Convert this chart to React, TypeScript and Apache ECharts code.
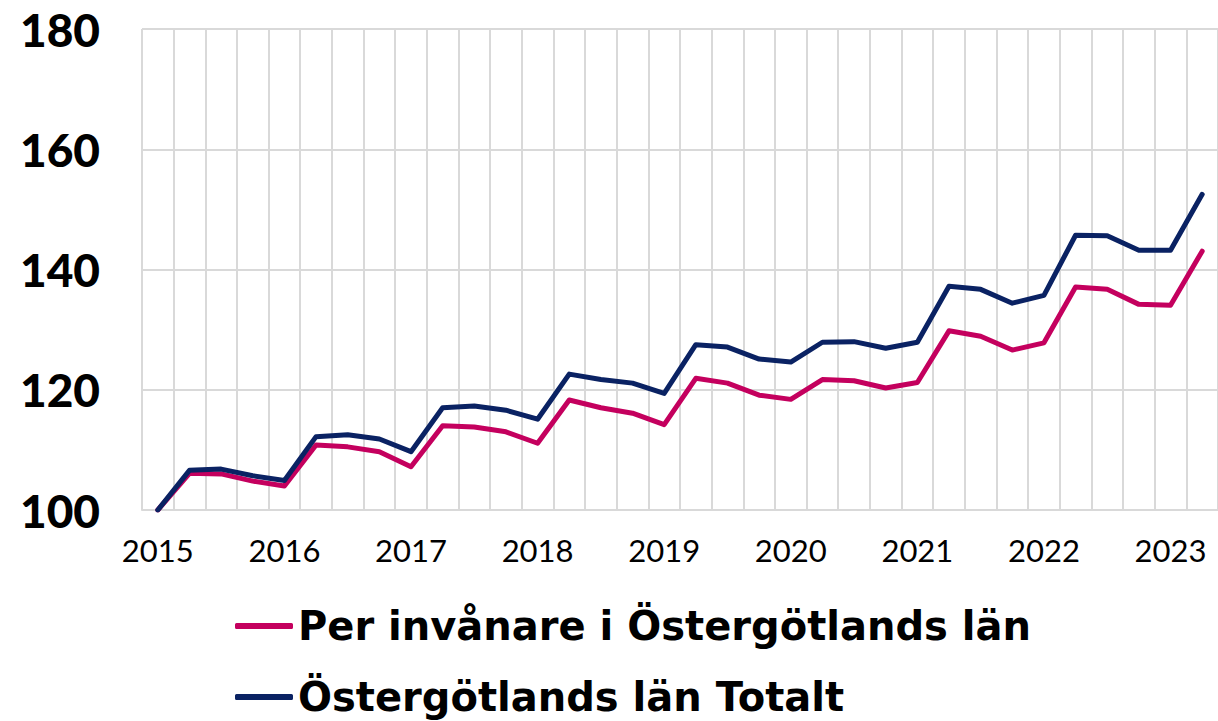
import React, { useEffect, useRef } from "react";
import * as echarts from "echarts";

const years = ["2015", "2016", "2017", "2018", "2019", "2020", "2021", "2022", "2023"];
const quarters = ["K1", "K2", "K3", "K4"];
const categories: string[] = [];
years.forEach((y) => quarters.forEach((q) => categories.push(`${y} ${q}`)));
const cats = categories.slice(0, 34);

const perInvanare = [
  100, 106.1, 106.0, 104.8, 104.0, 110.8, 110.5, 109.7, 107.2, 114.0, 113.8, 113.0, 111.1,
  118.3, 117.0, 116.1, 114.2, 121.9, 121.1, 119.1, 118.4, 121.7, 121.5, 120.3, 121.2,
  129.8, 128.9, 126.6, 127.8, 137.1, 136.7, 134.2, 134.05, 143.05,
];
const totalt = [
  100, 106.6, 106.8, 105.7, 104.9, 112.2, 112.5, 111.8, 109.7, 117.0, 117.3, 116.6, 115.1,
  122.6, 121.7, 121.1, 119.4, 127.5, 127.1, 125.1, 124.6, 127.9, 128.0, 126.9, 127.9,
  137.2, 136.7, 134.4, 135.7, 145.7, 145.6, 143.2, 143.2, 152.5,
];
const seriesNames = ["Per invånare i Östergötlands län", "Östergötlands län Totalt"];
const colors = ["#C4005E", "#0A2263"];

export default function App() {
  const ref = useRef<HTMLDivElement>(null);
  useEffect(() => {
    if (!ref.current) return;
    const chart = echarts.init(ref.current, undefined, { renderer: "svg" });
    const gridColor = "#d9d9d9";
    const legendBase = {
      orient: "vertical",
      left: 235,
      padding: 0,
      itemWidth: 58,
      itemHeight: 6,
      icon: "roundRect",
      textStyle: {
        fontFamily: "DejaVu Sans",
        fontWeight: "bold",
        fontSize: 40,
        color: "#000",
        lineHeight: 44,
      },
    };
    chart.setOption({
      animation: false,
      backgroundColor: "#ffffff",
      grid: { left: 142, top: 29, width: 1079, height: 481, containLabel: false },
      legend: [
        { ...legendBase, top: 604, data: [seriesNames[0]] },
        { ...legendBase, top: 675, data: [seriesNames[1]] },
      ],
      xAxis: {
        type: "category",
        data: cats,
        boundaryGap: true,
        axisLine: { show: true, lineStyle: { color: gridColor, width: 2 } },
        axisTick: { show: false },
        splitLine: { show: true, interval: 0, lineStyle: { color: gridColor, width: 2 } },
        axisLabel: {
          interval: 0,
          margin: 24,
          fontFamily: "Lato",
          fontSize: 31,
          color: "#000",
          formatter: (v: string) => (v.endsWith("K1") ? v.slice(0, 4) : ""),
        },
      },
      yAxis: {
        type: "value",
        min: 100,
        max: 180,
        interval: 20,
        axisLine: { show: false },
        axisTick: { show: false },
        splitLine: { show: true, lineStyle: { color: gridColor, width: 2 } },
        axisLabel: {
          margin: 42,
          fontFamily: "Lato",
          fontWeight: 900,
          fontSize: 46,
          color: "#000",
        },
      },
      series: [
        {
          name: seriesNames[0],
          type: "line",
          data: perInvanare,
          symbol: "none",
          color: colors[0],
          lineStyle: { width: 5, color: colors[0], cap: "round", join: "round" },
        },
        {
          name: seriesNames[1],
          type: "line",
          data: totalt,
          symbol: "none",
          color: colors[1],
          lineStyle: { width: 5, color: colors[1], cap: "round", join: "round" },
        },
      ],
    });
    return () => chart.dispose();
  }, []);
  return (
    <div
      ref={ref}
      style={{ position: "fixed", left: 0, top: 0, width: 1218, height: 721, background: "#fff" }}
    />
  );
}
